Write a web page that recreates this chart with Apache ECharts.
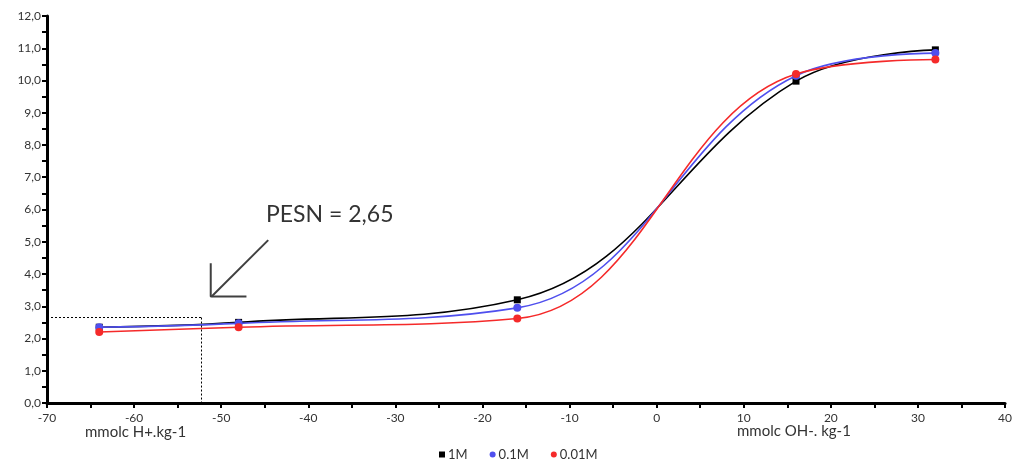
<!DOCTYPE html>
<html>
<head>
<meta charset="utf-8">
<script src="https://cdn.jsdelivr.net/npm/echarts@6/dist/echarts.min.js"></script>
<style>html,body{margin:0;padding:0;background:#fff}#c{width:1015px;height:460px}</style>
</head>
<body>
<div id="c"></div>
<script>
const xValues = [-64, -48, -16, 16, 32];
const series1M = [2.35, 2.5, 3.2, 9.98, 10.95];
const series01M = [2.35, 2.47, 2.95, 10.15, 10.85];
const series001M = [2.2, 2.35, 2.62, 10.2, 10.65];
const seriesNames = ['1M', '0.1M', '0.01M'];
const pesnX = -52.3;
const pesnY = 2.65;
const pesnLabel = 'PESN = 2,65';
const arrowShaft = [[-44.6, 5.05], [-51.1, 3.3]];
const arrowHead = [[-51.2, 4.33], [-51.2, 3.3], [-47.1, 3.3]];
const xAxisNameLeft = 'mmolc H+.kg-1';
const xAxisNameRight = 'mmolc OH-. kg-1';

const zip = (ys) => xValues.map((x, i) => [x, ys[i]]);
const chart = echarts.init(document.getElementById('c'));
const font = 'Lato, "Open Sans", sans-serif';
const mkSeries = (name, data, color, symbol) => ({
  name, type: 'line', data: zip(data), smooth: 0.4,
  symbol, symbolSize: symbol === 'rect' ? 7 : 8,
  itemStyle: { color },
  lineStyle: { color, width: 1.6 },
  z: 3
});
chart.setOption({
  animation: false,
  grid: { left: 47, right: 8, top: 16, bottom: 57 },
  xAxis: {
    type: 'value', min: -70, max: 40, interval: 10,
    axisLine: { onZero: false, lineStyle: { color: '#000', width: 3 } },
    axisTick: { show: true, length: 5, lineStyle: { color: '#000', width: 2 } },
    minorTick: { show: true, splitNumber: 2, length: 5, lineStyle: { color: '#000', width: 2 } },
    splitLine: { show: false },
    axisLabel: { color: '#333', fontSize: 12, margin: 9, fontFamily: font }
  },
  yAxis: {
    type: 'value', min: 0, max: 12, interval: 1,
    axisLine: { show: true, onZero: false, lineStyle: { color: '#000', width: 3 } },
    axisTick: { show: true, length: 5, lineStyle: { color: '#000', width: 2 } },
    minorTick: { show: true, splitNumber: 2, length: 5, lineStyle: { color: '#000', width: 2 } },
    splitLine: { show: false },
    axisLabel: { color: '#333', fontSize: 12, margin: 6, fontFamily: font,
      formatter: v => v.toFixed(1).replace('.', ',') }
  },
  legend: {
    top: 443, left: 434, itemWidth: 6, itemHeight: 6, itemGap: 22,
    textStyle: { color: '#333', fontSize: 13, fontFamily: font, padding: [0, 0, 0, -2] },
    data: [
      { name: seriesNames[0], icon: 'rect' },
      { name: seriesNames[1], icon: 'circle' },
      { name: seriesNames[2], icon: 'circle' }
    ]
  },
  graphic: [
    { type: 'text', left: 85, top: 425, style: { text: xAxisNameLeft, fill: '#333', font: '15px ' + font } },
    { type: 'text', left: 737, top: 424, style: { text: xAxisNameRight, fill: '#333', font: '15px ' + font } },
    { type: 'text', left: 266, top: 203, style: { text: pesnLabel, fill: '#333', font: '23px ' + font } }
  ],
  series: [
    mkSeries(seriesNames[0], series1M, '#000000', 'rect'),
    mkSeries(seriesNames[1], series01M, '#4f4fee', 'circle'),
    Object.assign(mkSeries(seriesNames[2], series001M, '#f52a2a', 'circle'), {
      markLine: {
        silent: true, symbol: 'none', label: { show: false },
        lineStyle: { color: '#000', type: [2, 2], width: 1 },
        data: [
          [{ coord: [-70, pesnY] }, { coord: [pesnX, pesnY] }],
          [{ coord: [pesnX, pesnY] }, { coord: [pesnX, 0] }]
        ]
      }
    }),
    { name: 'arrowShaft', type: 'line', data: arrowShaft, symbol: 'none', silent: true,
      lineStyle: { color: '#404040', width: 2 } },
    { name: 'arrowHead', type: 'line', data: arrowHead, symbol: 'none', silent: true,
      lineStyle: { color: '#404040', width: 2 } }
  ]
});
</script>
</body>
</html>
